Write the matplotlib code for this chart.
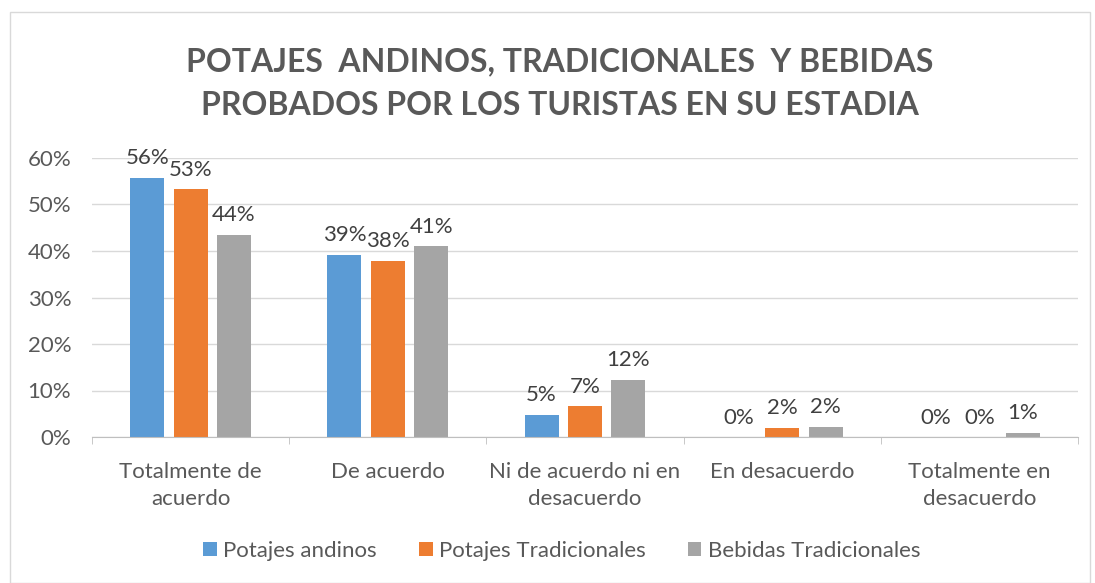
import matplotlib
matplotlib.use("Agg")
import matplotlib.pyplot as plt
import numpy as np
from matplotlib.patches import Rectangle

categories = ["Totalmente de\nacuerdo", "De acuerdo", "Ni de acuerdo ni en\ndesacuerdo",
              "En desacuerdo", "Totalmente en\ndesacuerdo"]
series_names = ["Potajes andinos", "Potajes Tradicionales", "Bebidas Tradicionales"]
potajes_andinos = [55.8, 39.2, 4.8, 0.0, 0.0]
potajes_tradicionales = [53.3, 37.9, 6.6, 2.0, 0.0]
bebidas_tradicionales = [43.5, 41.0, 12.3, 2.2, 0.9]
colors = ["#5B9BD5", "#ED7D31", "#A5A5A5"]
yticks = [0, 10, 20, 30, 40, 50, 60]

plt.rcParams['font.family'] = ['Lato', 'DejaVu Sans']
txt = "#595959"

fig = plt.figure(figsize=(10.95, 5.83), dpi=100)
fig.patches.append(Rectangle((10/1095, 0.0), 1080/1095, 1 - 12/583, transform=fig.transFigure,
                             fill=False, edgecolor="#D9D9D9", linewidth=1))
ax = fig.add_axes([92/1095, 1 - 437/583, (1078-92)/1095, (437-158)/583])

x = np.arange(len(categories))
w = 0.173
step = 0.22
data = [potajes_andinos, potajes_tradicionales, bebidas_tradicionales]
for i, (vals, name, c) in enumerate(zip(data, series_names, colors)):
    pos = x + (i - 1) * step
    ax.bar(pos, vals, width=w, color=c, label=name, zorder=3)
    for p, v in zip(pos, vals):
        ax.text(p, v + 2.9, f"{round(v):d}%", ha="center", va="baseline",
                fontsize=16, color="#404040", zorder=4)

ax.set_xlim(-0.5, len(categories) - 0.5)
ax.set_ylim(0, 60)
ax.set_yticks(yticks)
ax.set_yticklabels([f"{t}%" for t in yticks], fontsize=16, color=txt)
ax.set_xticks(x)
ax.set_xticklabels(categories, fontsize=16, color=txt, linespacing=1.45)
ax.set_xticks(np.arange(len(categories) + 1) - 0.5, minor=True)
ax.tick_params(axis="x", which="major", length=0, pad=18)
ax.tick_params(axis="x", which="minor", length=5, color="#BFBFBF", direction="out")
ax.tick_params(axis="y", length=0, pad=15)
ax.grid(axis="y", color="#D9D9D9", linewidth=1, zorder=0)
for s in ["top", "right", "left"]:
    ax.spines[s].set_visible(False)
ax.spines["bottom"].set_color("#BFBFBF")
ax.spines["bottom"].set_zorder(5)

fig.text(560/1095, 1 - 84/583, "POTAJES  ANDINOS, TRADICIONALES  Y BEBIDAS\nPROBADOS POR LOS TURISTAS EN SU ESTADIA",
         ha="center", va="center", fontsize=23, fontweight="bold", color=txt, linespacing=1.6)

fig.legend(loc="center", bbox_to_anchor=(562/1095, 1 - 551/583), ncol=3, frameon=False,
           fontsize=16, labelcolor=txt, handlelength=0.6, handleheight=0.6,
           handletextpad=0.3, columnspacing=1.9)

fig.savefig("out.png", dpi=100)
